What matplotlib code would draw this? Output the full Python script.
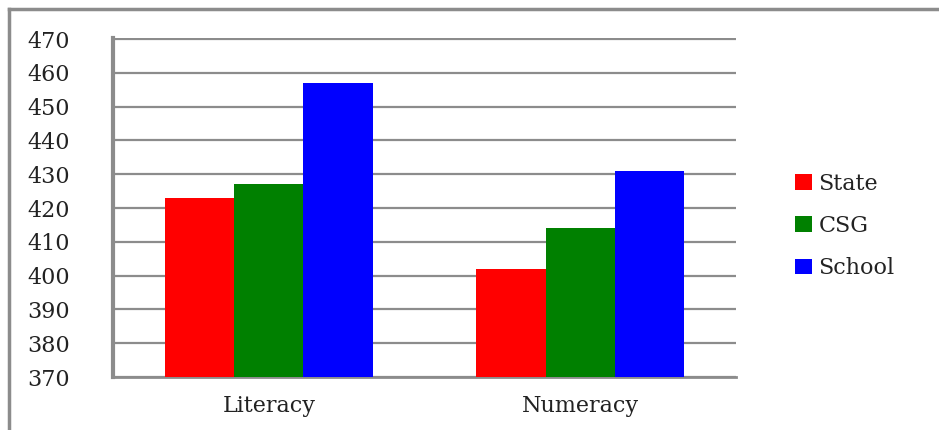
import matplotlib.pyplot as plt
import numpy as np
from matplotlib.lines import Line2D

categories = ["Literacy", "Numeracy"]
series_names = ["State", "CSG", "School"]
state = [423, 402]
csg = [427, 414]
school = [457, 431]
yticks = [370, 380, 390, 400, 410, 420, 430, 440, 450, 460, 470]

colors = ["#ff0000", "#008000", "#0000ff"]
grid_gray = "#8c8c8c"

plt.rcParams["font.family"] = ["DejaVu Serif"]

fig = plt.figure(figsize=(9.39, 4.30), dpi=100)
W, H = 939, 430
ax = fig.add_axes([113 / W, 1 - 377 / H, (736 - 113) / W, (377 - 38) / H])

x = np.arange(len(categories))
width = 0.223
for i, (vals, name) in enumerate(zip([state, csg, school], series_names)):
    ax.bar(x + (i - 1) * width, np.array(vals) - 370, width, bottom=370,
           color=colors[i], label=name, zorder=3)

ax.set_xlim(-0.5, 1.5)
ax.set_ylim(370, 470.3)
ax.set_yticks(yticks)
ax.set_xticks(x)
ax.set_xticklabels(categories, fontsize=16)
ax.tick_params(axis="y", length=0, pad=31, labelsize=16)
ax.tick_params(axis="x", length=0, pad=13)
for lbl in ax.get_yticklabels():
    lbl.set_color("#222222")
for lbl in ax.get_xticklabels():
    lbl.set_color("#222222")

ax.grid(axis="y", color=grid_gray, linewidth=1.6, zorder=0)
for side in ["top", "right"]:
    ax.spines[side].set_visible(False)
ax.spines["left"].set_color(grid_gray)
ax.spines["left"].set_linewidth(3)
ax.spines["bottom"].set_color(grid_gray)
ax.spines["bottom"].set_linewidth(2)

ax.legend(loc="center left", bbox_to_anchor=(795 / W, 1 - 226 / H),
          bbox_transform=fig.transFigure, frameon=False, fontsize=16,
          handlelength=0.75, handleheight=0.7, handletextpad=0.3,
          labelspacing=0.92, labelcolor="#222222", borderpad=0, borderaxespad=0)

# outer frame, top and left only
fig.add_artist(Line2D([9 / W, 9 / W], [0, 1 - 9 / H], transform=fig.transFigure,
                      color=grid_gray, linewidth=2.5))
fig.add_artist(Line2D([9 / W, 1], [1 - 9 / H, 1 - 9 / H], transform=fig.transFigure,
                      color=grid_gray, linewidth=2.5))

fig.savefig("out.png", dpi=100)
